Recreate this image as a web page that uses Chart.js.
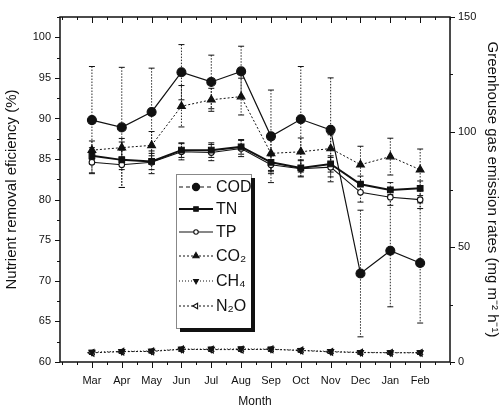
<!DOCTYPE html>
<html><head><meta charset="utf-8">
<script src="https://cdn.jsdelivr.net/npm/chart.js@4"></script>
<style>html,body{margin:0;padding:0;background:#fff;overflow:hidden}</style>
</head><body>
<div style="width:501px;height:409px"><canvas id="c" width="501" height="409"></canvas></div>
<script>
const months = ['Mar','Apr','May','Jun','Jul','Aug','Sep','Oct','Nov','Dec','Jan','Feb'];
const seriesNames = ['COD','TN','TP','CO₂','CH₄','N₂O'];
const leftTicks = [60,65,70,75,80,85,90,95,100];
const rightTicks = [0,50,100,150];
// left axis (%)
const cod    = [89.8,88.9,90.8,95.7,94.5,95.8,87.8,89.9,88.6,70.9,73.7,72.2];
const codErr = [6.6,7.4,5.4,3.4,3.3,3.1,5.7,6.5,6.4,7.8,6.9,7.4];
const tn     = [85.4,84.9,84.7,86.1,86.1,86.5,84.6,83.9,84.4,81.9,81.2,81.4];
const tnErr  = [1.0,1.2,1.0,0.9,0.9,0.9,1.0,1.0,1.0,1.0,0.9,0.9];
const tp     = [84.6,84.3,84.6,85.9,85.8,86.3,84.3,83.8,84.0,80.9,80.3,80.0];
const tpErr  = [1.3,2.8,1.4,1.0,1.0,1.0,1.1,1.0,1.2,1.2,1.0,1.1];
// right axis (mg m-2 h-1)
const co2    = [92.1,93.2,94.2,111.2,114.0,115.4,90.7,91.4,92.8,85.8,89.3,83.6];
const co2Err = [4,4,6,9,5,8,8,6,6,8,8,9];
const ch4    = [4.3,4.6,4.8,5.6,5.6,5.7,5.6,5.1,4.6,4.2,4.1,4.1];
const ch4Err = [0.8,0.8,0.8,0.9,0.9,0.9,0.9,0.8,0.8,0.8,0.8,0.8];
const n2o    = [4.0,4.5,4.6,5.5,5.4,5.4,5.5,5.0,4.4,4.1,4.0,4.0];
const n2oErr = [0.7,0.7,0.7,0.8,0.8,0.8,0.8,0.7,0.7,0.7,0.7,0.7];

const INK = '#111';
const FONT = "'Liberation Sans', Arial, Helvetica, sans-serif";
Chart.defaults.font.family = FONT;
Chart.defaults.color = INK;

const pts = arr => arr.map((v,i)=>({x:i+1,y:v}));

const datasets = [
 {label:seriesNames[0], data:pts(cod), err:codErr, yAxisID:'y', pointStyle:'circle', pointRadius:4.5, pointBackgroundColor:INK, borderWidth:1.2, borderDash:[], legendDash:[4,3]},
 {label:seriesNames[1], data:pts(tn), err:tnErr, yAxisID:'y', pointStyle:'rect', pointRadius:4, pointBackgroundColor:INK, borderWidth:2, borderDash:[]},
 {label:seriesNames[2], data:pts(tp), err:tpErr, yAxisID:'y', pointStyle:'circle', pointRadius:2.8, pointBackgroundColor:'#fff', borderWidth:1.1, borderDash:[]},
 {label:seriesNames[3], data:pts(co2), err:co2Err, yAxisID:'y2', pointStyle:'triangle', pointRadius:4.5, pointBackgroundColor:INK, borderWidth:1, borderDash:[2,2]},
 {label:seriesNames[4], data:pts(ch4), err:ch4Err, yAxisID:'y2', pointStyle:'triangle', pointRotation:180, pointRadius:3.5, pointBackgroundColor:INK, borderWidth:1, borderDash:[1,2]},
 {label:seriesNames[5], data:pts(n2o), err:n2oErr, yAxisID:'y2', pointStyle:'triangle', pointRotation:270, pointRadius:4, pointBackgroundColor:'#fff', borderWidth:1, borderDash:[2,2]}
].map(d=>Object.assign({borderColor:INK, pointBorderColor:INK, pointBorderWidth:1.1, showLine:true, fill:false, tension:0}, d));

const errorBars = {
 id:'errorBars',
 beforeDatasetsDraw(chart){
  const ctx = chart.ctx, xs = chart.scales.x;
  ctx.save();
  ctx.strokeStyle = INK;
  chart.data.datasets.forEach(ds=>{
   const ys = chart.scales[ds.yAxisID];
   ds.data.forEach((p,i)=>{
    const e = ds.err[i];
    const x = xs.getPixelForValue(p.x);
    const y1 = ys.getPixelForValue(p.y+e), y2 = ys.getPixelForValue(p.y-e);
    ctx.lineWidth = 0.9; ctx.setLineDash([1.5,1.5]);
    ctx.beginPath(); ctx.moveTo(x,y1); ctx.lineTo(x,y2); ctx.stroke();
    ctx.setLineDash([]); ctx.lineWidth = 1;
    ctx.beginPath(); ctx.moveTo(x-3,y1); ctx.lineTo(x+3,y1); ctx.moveTo(x-3,y2); ctx.lineTo(x+3,y2); ctx.stroke();
   });
  });
  ctx.restore();
 }
};

const frame = {
 id:'frame',
 afterDraw(chart){
  const {ctx, chartArea:a, scales} = chart;
  ctx.save(); ctx.strokeStyle = INK;
  ctx.lineWidth = 1.5;
  ctx.strokeRect(a.left, a.top, a.right-a.left, a.bottom-a.top);
  ctx.lineWidth = 1;
  ctx.beginPath();
  for (let v=0; v<=13.0001; v+=0.5){
   const x = Math.round(scales.x.getPixelForValue(v))+0.5;
   const major = Math.abs(v-Math.round(v))<1e-6 && v>=1 && v<=12;
   const L = major?6:3;
   ctx.moveTo(x,a.bottom); ctx.lineTo(x,a.bottom+L);
   ctx.moveTo(x,a.top); ctx.lineTo(x,a.top+L);
  }
  for (let v=60; v<=102.5001; v+=2.5){
   const y = Math.round(scales.y.getPixelForValue(v))+0.5;
   const L = (v%5===0)?5:3;
   ctx.moveTo(a.left,y); ctx.lineTo(a.left-L,y);
  }
  for (let v=0; v<=150; v+=25){
   const y = Math.round(scales.y2.getPixelForValue(v))+0.5;
   const L = (v%50===0)?5:3;
   ctx.moveTo(a.right,y); ctx.lineTo(a.right+L,y);
  }
  ctx.stroke();
  ctx.restore();
 }
};

const legendBox = {
 id:'legendBox',
 afterDraw(chart){
  const ctx = chart.ctx;
  const bx=176, by=174, bw=75, bh=154;
  const rows = [187,209,232,256,281,306];
  ctx.save();
  ctx.fillStyle = '#fff'; ctx.fillRect(bx,by,bw,bh);
  ctx.fillStyle = INK;
  ctx.fillRect(bx+bw, by+4, 4, bh);
  ctx.fillRect(bx+4, by+bh, bw, 4);
  ctx.strokeStyle = INK; ctx.lineWidth = 1; ctx.setLineDash([1,1]);
  ctx.strokeRect(bx+0.5, by+0.5, bw, bh);
  ctx.setLineDash([]);
  chart.data.datasets.forEach((ds,i)=>{
   const y = rows[i];
   ctx.strokeStyle = INK; ctx.lineWidth = ds.borderWidth;
   ctx.setLineDash(ds.legendDash || ds.borderDash || []);
   ctx.beginPath(); ctx.moveTo(bx+3,y); ctx.lineTo(bx+37,y); ctx.stroke();
   ctx.setLineDash([]);
   ctx.fillStyle = ds.pointBackgroundColor; ctx.strokeStyle = INK; ctx.lineWidth = 1.1;
   Chart.helpers.drawPoint(ctx, {pointStyle:ds.pointStyle, radius:ds.pointRadius*0.8, rotation:ds.pointRotation||0, borderWidth:1.1}, bx+20, y);
   ctx.fillStyle = INK;
   ctx.font = "16px " + FONT;
   ctx.textBaseline = 'middle'; ctx.textAlign = 'left';
   ctx.fillText(ds.label, bx+40, y+1);
  });
  ctx.restore();
 }
};

new Chart(document.getElementById('c'), {
 type:'scatter',
 data:{datasets},
 options:{
  responsive:false, animation:false,
  layout:{padding:{top:17,left:0,right:0,bottom:0}},
  plugins:{legend:{display:false}, tooltip:{enabled:false}},
  scales:{
   x:{type:'linear', position:'bottom', min:-0.07, max:13,
      afterFit(s){s.height=47;},
      afterBuildTicks(s){s.ticks = months.map((m,i)=>({value:i+1}));},
      grid:{display:false, drawTicks:false}, border:{display:false},
      ticks:{padding:12, autoSkip:false, maxRotation:0, font:{size:11}, callback:v=>months[Math.round(v)-1]||''},
      title:{display:true, text:'Month', font:{size:12}, padding:{top:0,bottom:0}}},
   y:{type:'linear', position:'left', min:60, max:102.5,
      afterFit(s){s.width=60;},
      afterBuildTicks(s){s.ticks = leftTicks.map(v=>({value:v}));},
      grid:{display:false, drawTicks:false}, border:{display:false},
      ticks:{padding:9, font:{size:11}},
      title:{display:true, text:'Nutrient removal eficiency (%)', font:{size:15}, padding:{top:3,bottom:0}}},
   y2:{type:'linear', position:'right', min:0, max:150,
      afterFit(s){s.width=51;},
      afterBuildTicks(s){s.ticks = rightTicks.map(v=>({value:v}));},
      grid:{display:false, drawTicks:false}, border:{display:false},
      ticks:{padding:8, font:{size:11}},
      title:{display:true, text:'Greenhouse gas emission rates (mg m⁻² h⁻¹)', font:{size:15}, padding:{top:0,bottom:0}}}
  }
 },
 plugins:[errorBars, frame, legendBox]
});
</script>
</body></html>
